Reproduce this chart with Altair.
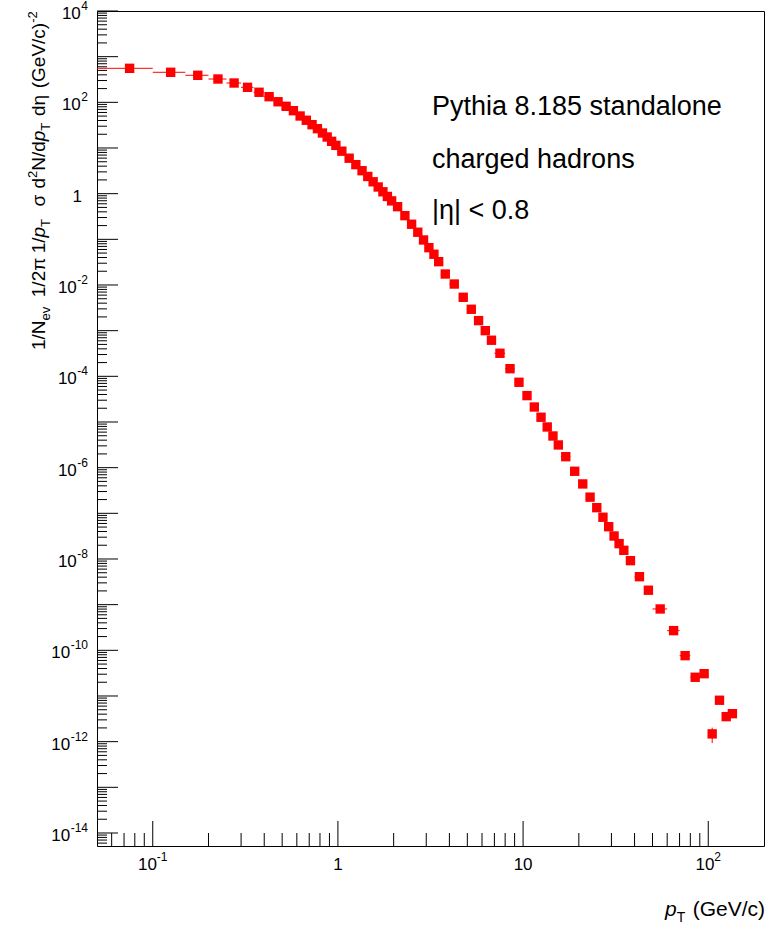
import altair as alt
import pandas as pd

# ---------------- data ----------------
pt_lo = [0.05, 0.10, 0.15, 0.20, 0.25, 0.30, 0.35, 0.40, 0.45, 0.50,
         0.55, 0.60, 0.65, 0.70, 0.75, 0.80, 0.85, 0.90, 0.95,
         1.0, 1.1, 1.2, 1.3, 1.4, 1.5, 1.6, 1.7, 1.8, 1.9,
         2.0, 2.2, 2.4, 2.6, 2.8, 3.0, 3.2, 3.4, 3.6,
         4.0, 4.5, 5.0, 5.5, 6.0, 6.5,
         7, 8, 9, 10, 11, 12, 13, 14, 15,
         16, 18, 20, 22, 24, 26, 28, 30, 32, 34,
         36, 40, 45,
         50, 60, 70, 80, 90, 100, 110, 120, 130]
pt_hi = [0.10, 0.15, 0.20, 0.25, 0.30, 0.35, 0.40, 0.45, 0.50, 0.55,
         0.60, 0.65, 0.70, 0.75, 0.80, 0.85, 0.90, 0.95, 1.0,
         1.1, 1.2, 1.3, 1.4, 1.5, 1.6, 1.7, 1.8, 1.9, 2.0,
         2.2, 2.4, 2.6, 2.8, 3.0, 3.2, 3.4, 3.6, 4.0,
         4.5, 5.0, 5.5, 6.0, 6.5, 7.0,
         8, 9, 10, 11, 12, 13, 14, 15, 16,
         18, 20, 22, 24, 26, 28, 30, 32, 34, 36,
         40, 45, 50,
         60, 70, 80, 90, 100, 110, 120, 130, 140]
yields = [556, 455, 391, 324, 265, 213, 166, 133, 103, 81.8,
          65.6, 50.2, 40.5, 32.4, 26.5, 21.3, 17.4, 14.0, 11.4,
          8.51, 5.98, 4.32, 3.18, 2.38, 1.82, 1.40, 1.10, 0.869, 0.695,
          0.519, 0.330, 0.214, 0.143, 0.0968, 0.0656, 0.0471, 0.0324, 0.0174,
          0.0105, 5.38e-3, 2.94e-3, 1.66e-3, 1.00e-3, 6.17e-4,
          3.20e-4, 1.47e-4, 7.41e-5, 3.78e-5, 2.13e-5, 1.27e-5, 7.78e-6, 4.94e-6, 3.14e-6,
          1.74e-6, 8.34e-7, 4.40e-7, 2.26e-7, 1.33e-7, 8.20e-8, 5.10e-8, 3.19e-8, 2.17e-8, 1.55e-8,
          9.20e-9, 4.10e-9, 2.07e-9,
          8.05e-10, 2.70e-10, 7.64e-11, 2.57e-11, 3.08e-11, 1.48e-12, 8.07e-12, 3.53e-12, 4.10e-12]
yield_err = [0, 0, 0, 0, 0, 0, 0, 0, 0, 0,
             0, 0, 0, 0, 0, 0, 0, 0, 0,
             0, 0, 0, 0, 0, 0, 0, 0, 0, 0,
             0, 0, 0, 0, 0, 0, 0, 0, 0,
             0, 0, 0, 0, 0, 0,
             0, 0, 0, 0, 0, 0, 0, 0, 0,
             0, 0, 0, 0, 0, 0, 0, 0, 0, 0,
             0, 0, 0,
             0, 0, 0, 0, 0, 0.55e-12, 0, 0, 0]

y_label_exps = [4, 2, 0, -2, -4, -6, -8, -10, -12, -14]
annotations = ["Pythia 8.185 standalone", "charged hadrons", "|\u03b7| < 0.8"]

# ---------------- layout ----------------
W, H = 667, 835
PAD_L, PAD_T = 97, 11
XMIN, XMAX = 0.05, 200.0
YMIN, YMAX = 10 ** -14.285, 1e4
FONT = "Liberation Sans"
RED = "#ff0000"

CW = {'0': .556, '1': .556, '2': .556, '3': .556, '4': .556, '5': .556, '6': .556,
      '7': .556, '8': .556, '9': .556, '/': .278, 'N': .722, 'e': .556, 'v': .5,
      ' ': .278, '\u03c0': .57, 'p': .556, 'T': .611, '\u03c3': .6, 'd': .556,
      '\u03b7': .556, '(': .333, ')': .333, 'G': .778, 'V': .667, 'c': .5, '-': .333}


def tw(s, size):
    return sum(CW.get(ch, .556) for ch in s) * size


xs = alt.Scale(type="log", domain=[XMIN, XMAX])
ys = alt.Scale(type="log", domain=[YMIN, YMAX])

df = pd.DataFrame({"lo": pt_lo, "hi": pt_hi, "y": yields, "err": yield_err})
df["pt"] = (df["lo"] + df["hi"]) / 2
df["ylo"] = df["y"] - df["err"]
df["yhi"] = df["y"] + df["err"]

base = alt.Chart(df)
hbars = base.mark_rule(color=RED, strokeWidth=1).encode(
    x=alt.X("lo:Q", scale=xs, axis=None), x2="hi:Q",
    y=alt.Y("y:Q", scale=ys, axis=None))
vbars = base.transform_filter("datum.err > 0").mark_rule(color=RED, strokeWidth=1).encode(
    x=alt.X("pt:Q", scale=xs, axis=None),
    y=alt.Y("ylo:Q", scale=ys, axis=None), y2="yhi:Q")
pts = base.mark_square(size=88, color=RED, opacity=1).encode(
    x=alt.X("pt:Q", scale=xs, axis=None),
    y=alt.Y("y:Q", scale=ys, axis=None))

# ---------------- ticks (drawn inside the frame, ROOT style) ----------------
y_major = pd.DataFrame({"v": [10.0 ** e for e in range(-14, 5)]})
y_minor = pd.DataFrame({"v": [m * 10.0 ** e for e in range(-15, 4) for m in range(2, 10)
                              if YMIN <= m * 10.0 ** e <= YMAX]})
x_major = pd.DataFrame({"v": [0.1, 1.0, 10.0, 100.0]})
x_minor = pd.DataFrame({"v": [m * 10.0 ** e for e in range(-2, 3) for m in range(2, 10)
                              if XMIN < m * 10.0 ** e < XMAX]})

ytick_maj = alt.Chart(y_major).mark_rule(color="black", strokeWidth=1).encode(
    y=alt.Y("v:Q", scale=ys, axis=None), x=alt.value(0), x2=alt.value(21))
ytick_min = alt.Chart(y_minor).mark_rule(color="black", strokeWidth=1).encode(
    y=alt.Y("v:Q", scale=ys, axis=None), x=alt.value(0), x2=alt.value(10))
xtick_maj = alt.Chart(x_major).mark_rule(color="black", strokeWidth=1).encode(
    x=alt.X("v:Q", scale=xs, axis=None), y=alt.value(H), y2=alt.value(H - 25))
xtick_min = alt.Chart(x_minor).mark_rule(color="black", strokeWidth=1).encode(
    x=alt.X("v:Q", scale=xs, axis=None), y=alt.value(H), y2=alt.value(H - 13))

# ---------------- y tick labels ----------------
LBL, EXP = 17, 12
R_EDGE = 88 - PAD_L
rows = []
for e in y_label_exps:
    if e == 0:
        rows.append({"v": 1.0, "b": "1", "x": "", "bx": R_EDGE - 6, "ex": R_EDGE})
    else:
        es = str(e)
        ex = R_EDGE - tw(es, EXP)
        rows.append({"v": 10.0 ** e, "b": "10", "x": es, "bx": ex - 0.5, "ex": ex})
ylab = pd.DataFrame(rows)
ylab_base = alt.Chart(ylab).mark_text(font=FONT, fontSize=LBL, align="right",
                                      baseline="middle", dy=3, color="black").encode(
    y=alt.Y("v:Q", scale=ys, axis=None), x=alt.X("bx:Q", scale=None), text="b:N")
ylab_exp = alt.Chart(ylab).mark_text(font=FONT, fontSize=EXP, align="left",
                                     baseline="middle", dy=-5, color="black").encode(
    y=alt.Y("v:Q", scale=ys, axis=None), x=alt.X("ex:Q", scale=None), text="x:N")

# ---------------- x tick labels ----------------
XL_Y = H + 19
plain = pd.DataFrame({"v": [1.0, 10.0], "t": ["1", "10"]})
xlab_plain = alt.Chart(plain).mark_text(font=FONT, fontSize=LBL, align="center",
                                        baseline="middle", color="black").encode(
    x=alt.X("v:Q", scale=xs, axis=None), y=alt.value(XL_Y), text="t:N")
xlab_layers = []
for v, es in [(0.1, "-1"), (100.0, "2")]:
    total = tw("10", LBL) + tw(es, EXP)
    d = pd.DataFrame({"v": [v], "b": ["10"], "x": [es]})
    xlab_layers.append(alt.Chart(d).mark_text(font=FONT, fontSize=LBL, align="left",
                                              baseline="middle", dx=-total / 2, color="black").encode(
        x=alt.X("v:Q", scale=xs, axis=None), y=alt.value(XL_Y), text="b:N"))
    xlab_layers.append(alt.Chart(d).mark_text(font=FONT, fontSize=EXP, align="left",
                                              baseline="middle", dx=-total / 2 + tw("10", LBL),
                                              dy=-8, color="black").encode(
        x=alt.X("v:Q", scale=xs, axis=None), y=alt.value(XL_Y), text="x:N"))

# ---------------- axis titles ----------------
TS, TSS = 19, 13
# (text, style) ; style "gap" carries a blank width in em
segs = [("1/N", "n"), ("ev", "sub"), (0.5, "gap"), ("1/2\u03c0", "n"), (0.35, "gap"),
        ("1/", "n"), ("p", "i"), ("T", "sub"), (0.65, "gap"),
        ("\u03c3", "n"), (0.35, "gap"), ("d", "n"), ("2", "sup"), ("N/d", "n"), ("p", "i"),
        ("T", "sub"), (0.35, "gap"), ("d\u03b7", "n"), (0.35, "gap"), ("(GeV/c)", "n"),
        ("-2", "sup")]
ybase_x = 45 - PAD_L
cum = 0.0
trows = []
for s, st in segs:
    if st == "gap":
        cum += s * TS
        continue
    size = TSS if st in ("sub", "sup") else TS
    px = ybase_x + (5 if st == "sub" else (-8 if st == "sup" else 0))
    trows.append({"t": s, "px": px, "py": (350 - PAD_T) - cum, "size": size,
                  "style": "italic" if st == "i" else "normal"})
    cum += tw(s, size)
ytitle_df = pd.DataFrame(trows)
ytitle_layers = []
for (size, style), g in ytitle_df.groupby(["size", "style"]):
    ytitle_layers.append(alt.Chart(g).mark_text(font=FONT, fontSize=int(size), fontStyle=style,
                                                angle=270, align="left", baseline="alphabetic",
                                                color="black").encode(
        x=alt.X("px:Q", scale=None), y=alt.Y("py:Q", scale=None), text="t:N"))

XT, XTS = 21, 14
xt_right = 765 - PAD_L
g_w = tw("(GeV/c)", XT)
gap_w = 0.35 * XT
xtitle_df = pd.DataFrame([
    {"t": "p", "px": xt_right - g_w - gap_w - tw("T", XTS) - tw("p", XT), "py": 916 - PAD_T, "k": "i"},
    {"t": "T", "px": xt_right - g_w - gap_w - tw("T", XTS), "py": 916 - PAD_T + 6, "k": "sub"},
    {"t": "(GeV/c)", "px": xt_right - g_w, "py": 916 - PAD_T, "k": "n"},
])
xtitle_layers = [
    alt.Chart(xtitle_df[xtitle_df.k == "i"]).mark_text(font=FONT, fontSize=XT, fontStyle="italic",
                                                      align="left", baseline="alphabetic").encode(
        x=alt.X("px:Q", scale=None), y=alt.Y("py:Q", scale=None), text="t:N"),
    alt.Chart(xtitle_df[xtitle_df.k == "sub"]).mark_text(font=FONT, fontSize=XTS,
                                                        align="left", baseline="alphabetic").encode(
        x=alt.X("px:Q", scale=None), y=alt.Y("py:Q", scale=None), text="t:N"),
    alt.Chart(xtitle_df[xtitle_df.k == "n"]).mark_text(font=FONT, fontSize=XT,
                                                      align="left", baseline="alphabetic").encode(
        x=alt.X("px:Q", scale=None), y=alt.Y("py:Q", scale=None), text="t:N"),
]

# ---------------- annotation ----------------
ann_df = pd.DataFrame({"t": annotations, "px": [432 - PAD_L] * 3,
                       "py": [115 - PAD_T, 168 - PAD_T, 219 - PAD_T]})
ann = alt.Chart(ann_df).mark_text(font=FONT, fontSize=27, align="left",
                                  baseline="alphabetic", color="black").encode(
    x=alt.X("px:Q", scale=None), y=alt.Y("py:Q", scale=None), text="t:N")

chart = alt.layer(
    ytick_min, ytick_maj, xtick_min, xtick_maj,
    hbars, vbars, pts,
    ylab_base, ylab_exp, xlab_plain, *xlab_layers,
    *ytitle_layers, *xtitle_layers, ann,
).properties(
    width=W, height=H,
    autosize=alt.AutoSizeParams(type="none"),
    padding={"left": PAD_L, "top": PAD_T, "right": 766 - PAD_L - W, "bottom": 930 - PAD_T - H},
    background="white",
).configure_view(stroke="black", strokeWidth=1)

chart.save("out.html", embed_options={"renderer": "svg", "actions": False})
